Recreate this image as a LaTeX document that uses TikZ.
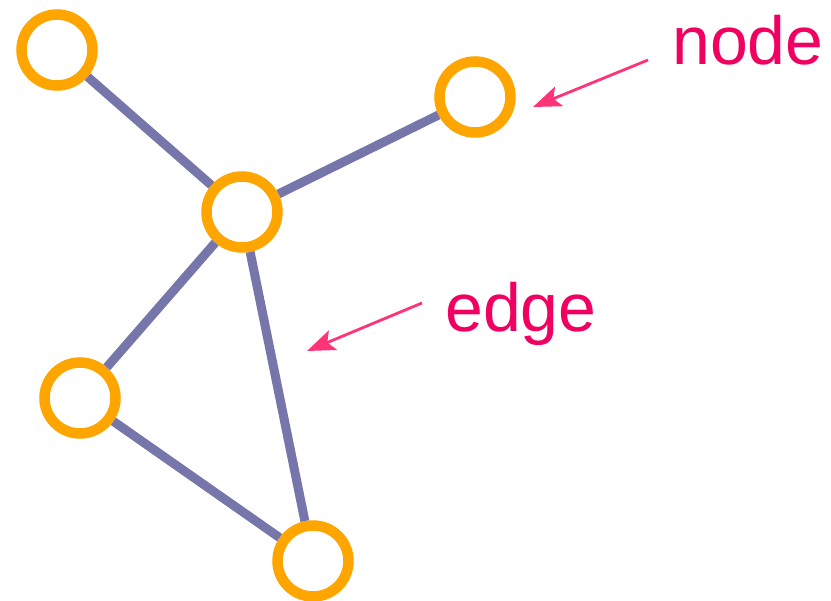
\documentclass[tikz,border=0pt]{standalone}
\usepackage{fontspec}
\setmainfont{Liberation Sans}
\usetikzlibrary{arrows.meta}
\definecolor{ringc}{HTML}{FFA500}
\definecolor{edgec}{HTML}{7676AA}
\definecolor{labc}{HTML}{F00060}
\definecolor{arrc}{HTML}{FF3377}
\begin{document}
\begin{tikzpicture}[x=1pt,y=-1pt,
  vert/.style={circle,draw=ringc,fill=white,line width=10.5pt,minimum size=71pt,inner sep=0pt},
  link/.style={draw=edgec,line width=9pt},
  lab/.style={text=labc,font=\fontsize{68}{80}\selectfont,inner sep=0pt,anchor=base west},
  pointer/.style={draw=arrc,line width=2.8pt,-{Stealth[length=28pt,width=21pt,inset=6pt]}}]
\useasboundingbox (0,0) rectangle (831,601);
\node[vert] (nA) at (57,50) {};
\node[vert] (nB) at (242,212) {};
\node[vert] (nC) at (475,97) {};
\node[vert] (nD) at (80,398) {};
\node[vert] (nE) at (313,561) {};
\draw[link] (nA) -- (nB);
\draw[link] (nB) -- (nC);
\draw[link] (nB) -- (nD);
\draw[link] (nB) -- (nE);
\draw[link] (nD) -- (nE);
\node[lab] (tnode) at (672,65) {node};
\node[lab] (tedge) at (445,332) {edge};
\coordinate (s1) at (648,60);
\coordinate (t1) at (533,107);
\coordinate (s2) at (422,303);
\coordinate (t2) at (307,351);
\draw[pointer] (s1) -- (t1);
\draw[pointer] (s2) -- (t2);
\end{tikzpicture}
\end{document}
